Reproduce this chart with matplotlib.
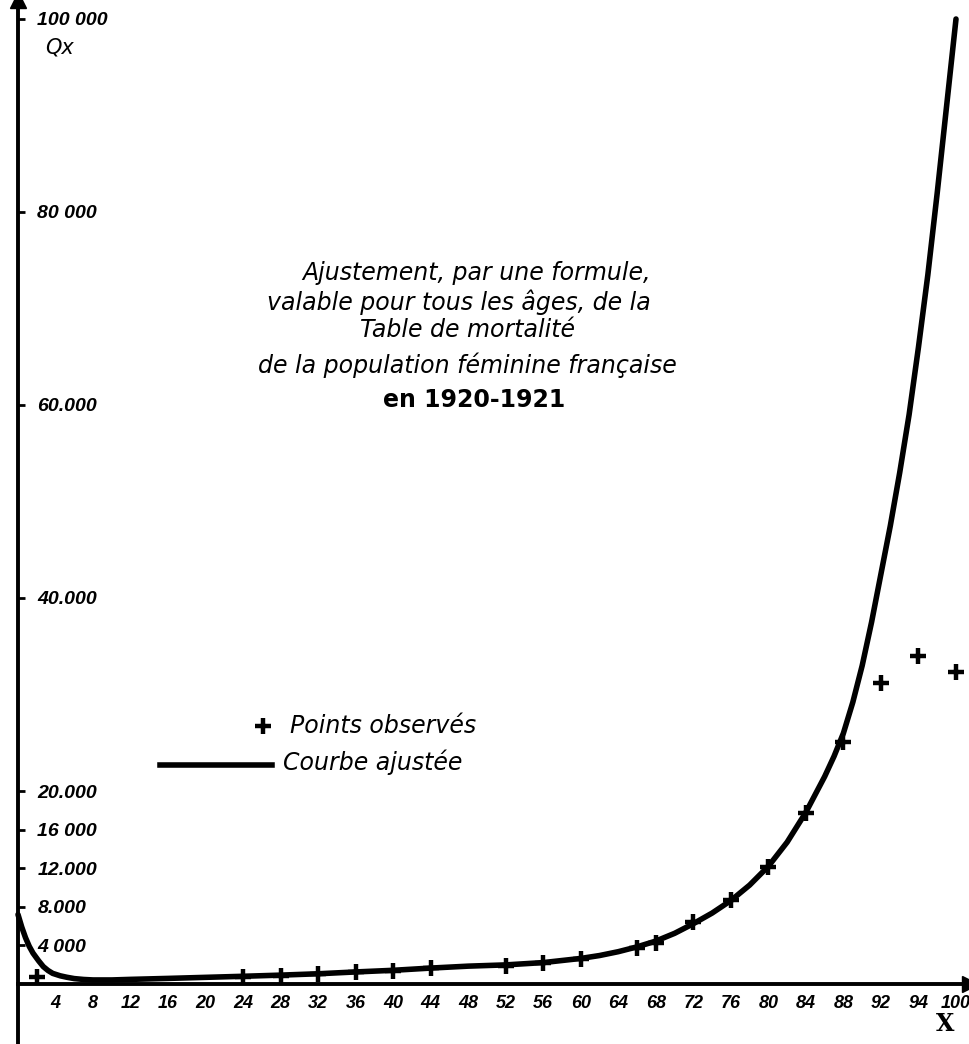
import matplotlib
matplotlib.use("Agg")
import matplotlib.pyplot as plt

# Observed points (age, Qx per 100 000)
obs_age = [2, 24, 28, 32, 36, 40, 44, 52, 56, 60, 66, 68, 72, 76, 80, 84, 88, 92, 96, 100]
obs_qx = [720, 730, 830, 1040, 1250, 1350, 1660, 1870, 2180, 2600, 3730, 4250,
          6400, 8700, 12100, 17700, 25100, 31200, 34000, 32300]

# Fitted curve
fit_age = [0, 0.4, 0.8, 1.2, 1.6, 2.2, 2.7, 3.2, 3.7, 4.5, 5.2, 6, 7, 8, 10, 12, 16, 20,
           24, 28, 32, 36, 40, 44, 48, 52, 56, 60, 62, 64, 66, 68, 70, 72, 74, 76, 78,
           80, 82, 84, 86, 87, 88, 89, 90, 91, 92, 93, 94, 95, 96, 97, 98, 99, 100]
fit_qx = [7200, 5900, 4800, 3900, 3200, 2400, 1800, 1400, 1100, 850, 700, 560, 470, 420,
          420, 480, 580, 690, 800, 920, 1060, 1250, 1420, 1650, 1850, 1980, 2220, 2650,
          2950, 3350, 3850, 4450, 5250, 6250, 7350, 8650, 10250, 12200, 14700, 17800,
          21500, 23600, 26000, 29200, 33000, 37500, 42500, 47500, 53000, 59000, 66000,
          73500, 82000, 91000, 100000]

# Axis ticks
y_ticks = [4000, 8000, 12000, 16000, 20000, 40000, 60000, 80000, 100000]
y_labels = ["4 000", "8.000", "12.000", "16 000", "20.000", "40.000", "60.000", "80 000", "100 000"]
x_ticks = [4, 8, 12, 16, 20, 24, 28, 32, 36, 40, 44, 48, 52, 56, 60, 64, 68, 72, 76, 80, 84, 88, 92, 96, 100]
x_labels = ["4", "8", "12", "16", "20", "24", "28", "32", "36", "40", "44", "48", "52", "56",
            "60", "64", "68", "72", "76", "80", "84", "88", "92", "94", "100"]

title_lines = ["Ajustement, par une formule,",
               "valable pour tous les âges, de la",
               "Table de mortalité",
               "de la population féminine française"]

W, H = 970, 1044
fig = plt.figure(figsize=(W / 100, H / 100), dpi=100)
ax = fig.add_axes([0, 0, 1, 1])
ax.set_xlim(-18 / 9.38, (W - 18) / 9.38)
ax.set_ylim(-(H - 984) / 9.65 * 1000, 984 / 9.65 * 1000)

ax.plot(fit_age, fit_qx, color="black", lw=4, solid_capstyle="round", solid_joinstyle="round", zorder=3)
ax.plot(obs_age, obs_qx, linestyle="none", marker="+", ms=12, mew=3.2, color="black", zorder=4)

for side in ["top", "right"]:
    ax.spines[side].set_visible(False)
ax.spines["left"].set_position(("data", 0))
ax.spines["bottom"].set_position(("data", 0))
ax.spines["left"].set_linewidth(2.8)
ax.spines["bottom"].set_linewidth(2.8)
ax.spines["bottom"].set_bounds(0, ax.get_xlim()[1] - 0.6)
ax.spines["left"].set_bounds(ax.get_ylim()[0], ax.get_ylim()[1] - 800)
ax.plot(0, 1, marker="^", ms=11, color="black", transform=ax.get_xaxis_transform(), clip_on=False)
ax.plot(1, 0, marker=">", ms=11, color="black", transform=ax.get_yaxis_transform(), clip_on=False)

ax.set_yticks(y_ticks, y_labels, family="Liberation Sans", style="italic", weight="bold", size=14)
for lbl in ax.get_yticklabels():
    lbl.set_ha("left")
ax.tick_params(axis="y", direction="in", length=5, width=2, pad=-14)
ax.set_xticks(x_ticks, x_labels, family="Liberation Sans", style="italic", weight="bold", size=13)
ax.tick_params(axis="x", length=0, pad=8)

fig.text(45 / W, 1 - 47 / H, "Qx", fontsize=15, style="italic", va="center")
fig.text(945 / W, 1 - 1024 / H, "X", fontsize=17, weight="bold", ha="center", va="center",
         family="DejaVu Serif")

title_pos = [(302, 273), (267, 302), (360, 330), (258, 365)]
for txt, (px, py) in zip(title_lines, title_pos):
    fig.text(px / W, 1 - py / H, txt, fontsize=17, style="italic", va="center")
fig.text(383 / W, 1 - 400 / H, "en 1920-1921", fontsize=17, weight="bold", va="center")

# legend drawn by hand
fig.lines.append(plt.Line2D([263 / W], [1 - 726 / H], marker="+", ms=12, mew=3.2, color="black",
                            transform=fig.transFigure))
fig.lines.append(plt.Line2D([160 / W, 272 / W], [1 - 765 / H] * 2, lw=4, color="black",
                            transform=fig.transFigure))
fig.text(290 / W, 1 - 726 / H, "Points observés", fontsize=17, style="italic", va="center")
fig.text(283 / W, 1 - 762 / H, "Courbe ajustée", fontsize=17, style="italic", va="center")

fig.savefig("out.png", dpi=100)
